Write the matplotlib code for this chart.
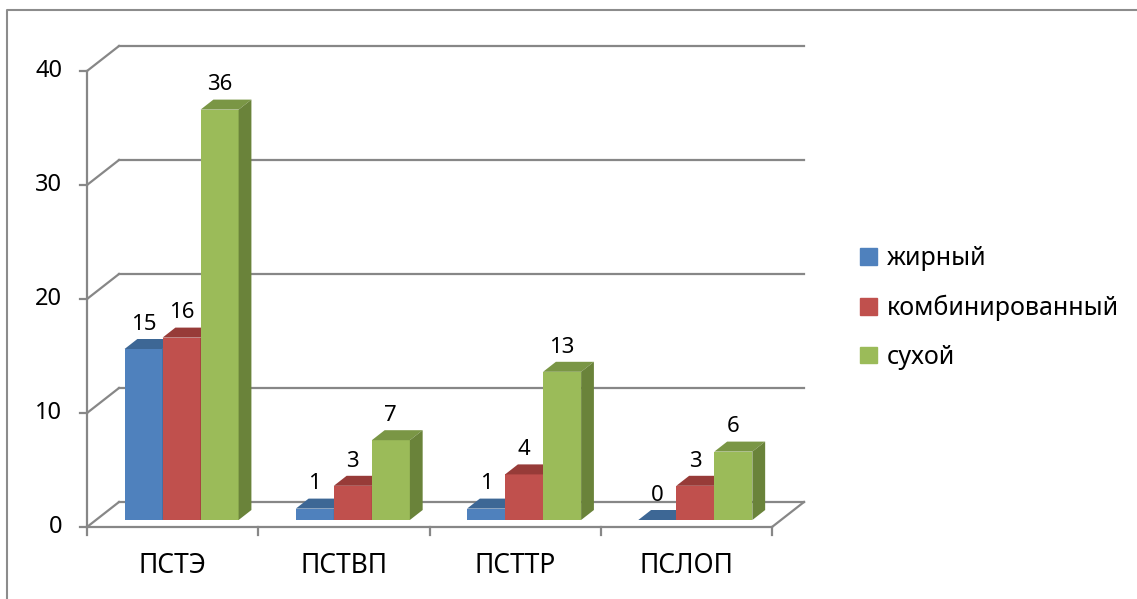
import matplotlib.pyplot as plt
from matplotlib.patches import Polygon, Patch
from matplotlib.lines import Line2D

plt.rcParams['font.family'] = ['Noto Sans', 'DejaVu Sans']

categories = ["ПСТЭ", "ПСТВП", "ПСТТР", "ПСЛОП"]
series_names = ["жирный", "комбинированный", "сухой"]
values_fat = [15, 1, 1, 0]
values_comb = [16, 3, 4, 3]
values_dry = [36, 7, 13, 6]
yticks = [0, 10, 20, 30, 40]

series = [values_fat, values_comb, values_dry]
front = ["#4F81BD", "#C0504D", "#9BBB59"]
top = ["#3D6795", "#973B38", "#7A9645"]
side = ["#355A84", "#853331", "#6A833A"]
grid_c = "#878787"

fig = plt.figure(figsize=(11.37, 5.99), dpi=100)
ax = fig.add_axes([0, 0, 1, 1])
# front plane: x 0..4 -> px 87..772, y 0..40 -> px 527..71
pxx = 171.25
pxy = 11.4
ax.set_xlim(-87 / pxx, (1137 - 87) / pxx)
ax.set_ylim(-72 / pxy, (599 - 72) / pxy)
ax.axis('off')

DX = 32 / pxx   # depth of the plot box
DY = 25 / pxy
f = 0.28        # bar front face position in depth
d = 0.4         # bar depth
W = 0.222

# walls and gridlines
for v in yticks:
    ax.plot([DX, 4 + DX], [v + DY, v + DY], color=grid_c, lw=1.6, zorder=1)
    ax.plot([0, DX], [v, v + DY], color=grid_c, lw=1.6, zorder=1)
    ax.plot([-0.042, 0], [v, v], color=grid_c, lw=1.6, zorder=1)
    ax.text(-0.145, v, str(v), ha='right', va='center', fontsize=17)
ax.plot([0, 0], [0, 40], color=grid_c, lw=1.6, zorder=1)
ax.plot([0, 4], [0, 0], color=grid_c, lw=1.6, zorder=1)
ax.plot([4, 4 + DX], [0, DY], color=grid_c, lw=1.6, zorder=1)
for i in range(len(categories) + 1):
    ax.plot([i, i], [0, -0.7], color=grid_c, lw=1.6, zorder=1)
for i, c in enumerate(categories):
    ax.text(i + 0.5, -3.4, c, ha='center', va='center', fontsize=19)

# bars
z = 2
b = f * DY
for i in range(len(categories)):
    for j, vals in enumerate(series):
        v = vals[i]
        xl = i + 0.5 - 1.5 * W + j * W + f * DX
        ax.bar(xl, v, width=W, bottom=b, align='edge', color=front[j],
               lw=0, zorder=z)
        ax.add_patch(Polygon([(xl, b + v), (xl + W, b + v),
                              (xl + W + d * DX, b + v + d * DY),
                              (xl + d * DX, b + v + d * DY)],
                             closed=True, color=top[j], lw=0, zorder=z))
        ax.add_patch(Polygon([(xl + W, b), (xl + W, b + v),
                              (xl + W + d * DX, b + v + d * DY),
                              (xl + W + d * DX, b + d * DY)],
                             closed=True, color=side[j], lw=0, zorder=z))
        ax.text(xl + W / 2, b + v + d * DY + 0.8, str(v), ha='center',
                va='baseline', fontsize=16, zorder=z + 1)
        z += 1

handles = [Patch(color=c) for c in front]
fig.legend(handles, series_names, loc='center left',
           bbox_to_anchor=(0.737, 0.486), frameon=False, fontsize=18,
           handlelength=0.65, handleheight=0.65, handletextpad=0.4,
           labelspacing=0.95)

# outer frame
fig.add_artist(Line2D([7 / 1137, 7 / 1137, 1], [0, 589 / 599, 589 / 599],
                      color="#8C8C8C", lw=1.5))

fig.savefig("out.png", dpi=100)
